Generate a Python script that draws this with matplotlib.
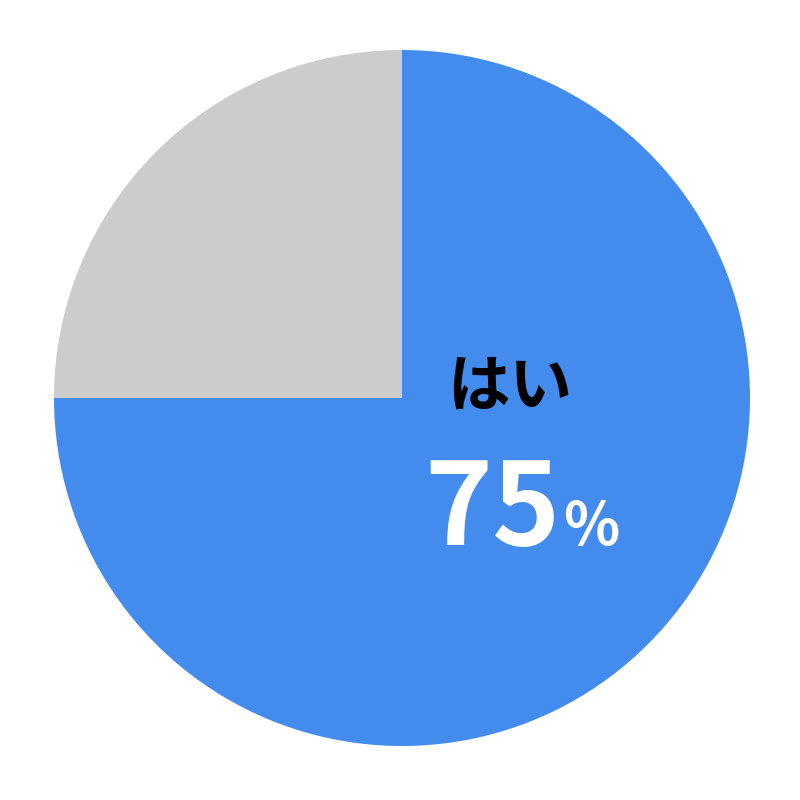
import matplotlib
matplotlib.use('Agg')
import matplotlib.pyplot as plt

plt.rcParams['font.family'] = ['Noto Sans CJK JP', 'DejaVu Sans']

labels = ['はい', 'いいえ']
values = [75, 25]
colors = ['#448BEE', '#CCCCCC']

fig = plt.figure(figsize=(8, 8), dpi=100)
ax = fig.add_axes([0, 0, 1, 1])
ax.set_xlim(0, 800)
ax.set_ylim(0, 800)
ax.set_aspect('equal')
ax.axis('off')

ax.pie(values, colors=colors, startangle=90, counterclock=False,
       center=(402, 402), radius=348, frame=True,
       wedgeprops={'linewidth': 0})
ax.set_xlim(0, 800)
ax.set_ylim(0, 800)
ax.axis('off')

ax.text(510, 800 - 387, labels[0], ha='center', va='center',
        fontsize=45, fontweight='bold', color='black')
ax.text(560, 800 - 545, '%d' % values[0], ha='right', va='baseline',
        fontsize=83, fontweight='bold', color='white')
ax.text(563, 800 - 545, '%', ha='left', va='baseline',
        fontsize=42, fontweight='bold', color='white')

fig.savefig('out.png', dpi=100)
